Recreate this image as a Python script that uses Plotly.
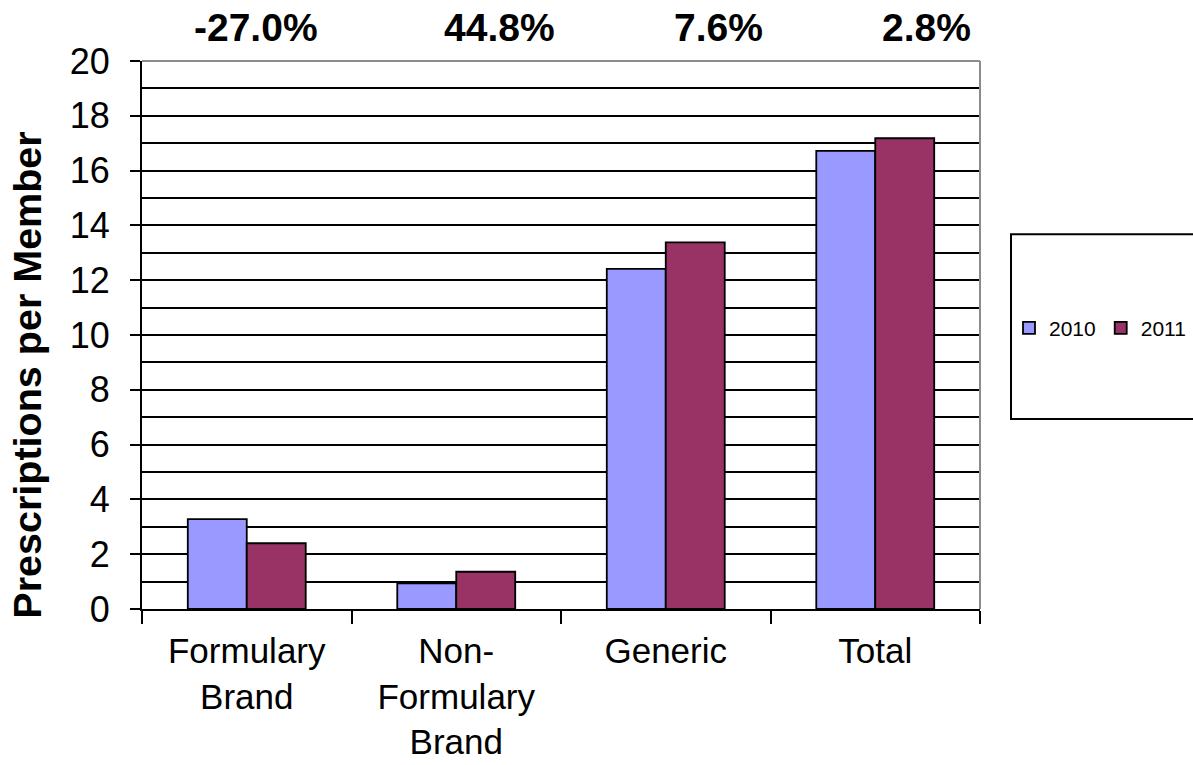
import plotly.graph_objects as go

# Prescriptions per member by drug category, 2010 vs 2011
categories = ["Formulary<br>Brand", "Non-<br>Formulary<br>Brand", "Generic", "Total"]
rx_2010 = [3.28, 0.94, 12.41, 16.72]
rx_2011 = [2.40, 1.36, 13.38, 17.18]
pct_change = ["-27.0%", "44.8%", "7.6%", "2.8%"]
pct_x = [0.136, 0.4266, 0.6874, 0.936]  # label centres across the plot width

FONT = "Arial, Liberation Sans, sans-serif"

fig = go.Figure()
fig.add_trace(go.Bar(
    name="2010", x=categories, y=rx_2010,
    marker=dict(color="#9999FF", line=dict(color="black", width=1.8)),
))
fig.add_trace(go.Bar(
    name="2011", x=categories, y=rx_2011,
    marker=dict(color="#993366", line=dict(color="black", width=1.8)),
))

# percentage change above each category
for txt, xp in zip(pct_change, pct_x):
    fig.add_annotation(
        x=xp, y=1.0615, xref="paper", yref="paper",
        text=f"<b>{txt}</b>", showarrow=False,
        xanchor="center", yanchor="middle",
        font=dict(family=FONT, size=39, color="black"),
    )

# y-axis title
fig.add_annotation(
    x=-0.1366, y=0.4268, xref="paper", yref="paper",
    text="<b>Prescriptions per Member</b>", showarrow=False,
    textangle=-90, xanchor="center", yanchor="middle",
    font=dict(family=FONT, size=39.5, color="black"),
)

# gray top/right border of the plot area
fig.add_shape(type="line", xref="paper", yref="paper", x0=0, x1=1, y0=1, y1=1,
              line=dict(color="#8c8c8c", width=2), layer="above")
fig.add_shape(type="line", xref="paper", yref="paper", x0=1, x1=1, y0=0, y1=1,
              line=dict(color="#8c8c8c", width=2), layer="above")

# legend frame
fig.add_shape(type="rect", xref="paper", yref="paper",
              x0=1.037, x1=1.27, y0=0.3465, y1=0.684,
              line=dict(color="black", width=2), fillcolor="rgba(0,0,0,0)")

fig.update_layout(
    width=1193, height=765,
    margin=dict(l=142, r=213, t=61, b=156, pad=0, autoexpand=False),
    paper_bgcolor="white", plot_bgcolor="white",
    barmode="group", bargap=0.437, bargroupgap=0,
    font=dict(family=FONT, color="black"),
    showlegend=True,
    legend=dict(
        orientation="h", x=1.0346, y=0.5125, xanchor="left", yanchor="middle",
        font=dict(family=FONT, size=21, color="black"),
        bgcolor="rgba(0,0,0,0)", borderwidth=0,
        itemwidth=30, traceorder="normal",
    ),
    xaxis=dict(
        showline=True, linecolor="black", linewidth=2,
        ticks="outside", ticklen=13, tickwidth=2, tickcolor="black",
        tickson="boundaries", showgrid=False,
        tickfont=dict(family=FONT, size=35, color="black"),
        ticklabelstandoff=10,
    ),
    yaxis=dict(
        range=[0, 20], dtick=2, tick0=0,
        showline=True, linecolor="black", linewidth=2,
        ticks="outside", ticklen=10, tickwidth=2, tickcolor="black",
        showgrid=True, gridcolor="black", gridwidth=1.6,
        zeroline=False,
        minor=dict(dtick=1, showgrid=True, gridcolor="black", gridwidth=1.6),
        tickfont=dict(family=FONT, size=36, color="black"),
        ticklabelstandoff=13,
    ),
)

fig.write_html("out.html")
